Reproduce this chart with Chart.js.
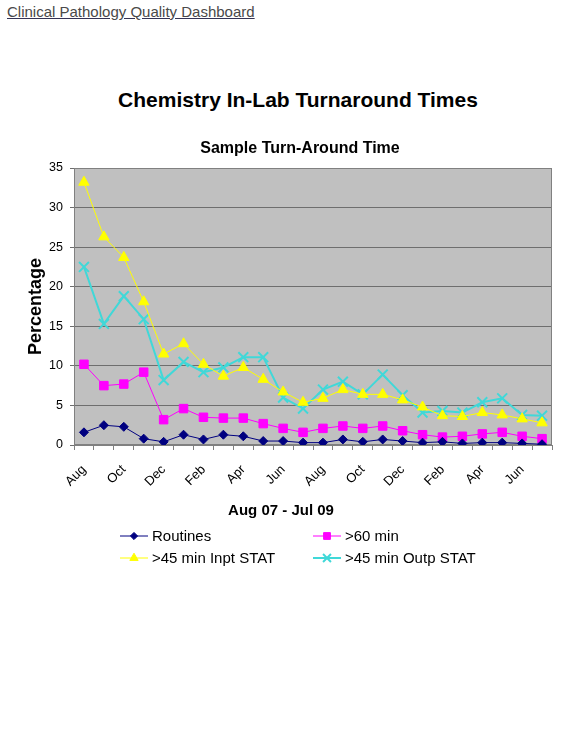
<!DOCTYPE html>
<html>
<head>
<meta charset="utf-8">
<title>Chemistry In-Lab Turnaround Times</title>
<script src="https://cdn.jsdelivr.net/npm/chart.js@4.4.1/dist/chart.umd.min.js"></script>
<style>
  body { margin: 0; background: #fff; font-family: "Liberation Sans", Arial, sans-serif; }
  #head { position: absolute; left: 7px; top: 3px; font-size: 15px; color: #4a4a4a;
          text-decoration: underline; text-decoration-color: #333355; }
  #title { position: absolute; left: 10px; top: 88px; width: 576px; text-align: center;
           font-weight: bold; font-size: 21px; color: #000; }
  #wrap { position: absolute; left: 0; top: 130px; width: 576px; height: 450px; }
</style>
</head>
<body>
<div id="head">Clinical Pathology Quality Dashboard</div>
<div id="title">Chemistry In-Lab Turnaround Times</div>
<div id="wrap"><canvas id="tatChart"></canvas></div>

<script>
// months Aug 07 .. Jul 09
const months = ["Aug", "Sep", "Oct", "Nov", "Dec", "Jan", "Feb", "Mar", "Apr", "May", "Jun", "Jul",
                "Aug", "Sep", "Oct", "Nov", "Dec", "Jan", "Feb", "Mar", "Apr", "May", "Jun", "Jul"];

const routines = [1.6, 2.5, 2.3, 0.8, 0.4, 1.3, 0.7, 1.3, 1.1, 0.5, 0.5, 0.3,
                  0.3, 0.7, 0.4, 0.7, 0.5, 0.3, 0.4, 0.2, 0.3, 0.3, 0.2, 0.1];
const over60 = [10.2, 7.5, 7.7, 9.2, 3.2, 4.6, 3.5, 3.4, 3.4, 2.7, 2.1, 1.6,
                2.1, 2.4, 2.1, 2.4, 1.8, 1.3, 1.0, 1.1, 1.4, 1.6, 1.1, 0.8];
const inptStat = [33.2, 26.3, 23.7, 18.1, 11.5, 12.8, 10.2, 8.7, 9.8, 8.3, 6.7, 5.4,
                  5.9, 7.0, 6.4, 6.4, 5.7, 4.8, 3.7, 3.6, 4.1, 3.8, 3.3, 2.8];
const outpStat = [22.5, 15.3, 18.8, 15.9, 8.2, 10.5, 9.2, 9.8, 11.1, 11.1, 6.0, 4.6,
                  7.0, 8.0, 6.4, 8.9, 6.3, 4.1, 4.3, 4.1, 5.4, 5.9, 3.8, 3.7];

const yTicks = [0, 5, 10, 15, 20, 25, 30, 35];

const chartTitle = "Sample Turn-Around Time";
const xTitle = "Aug 07 - Jul 09";

// plot background + frame, titles and a two-column legend like the Excel one
const excelLook = {
  id: "excelLook",
  beforeDraw(chart) {
    const { ctx, chartArea: a } = chart;
    ctx.save();
    ctx.fillStyle = "#c0c0c0";
    ctx.fillRect(a.left, a.top, a.right - a.left, a.bottom - a.top);
    ctx.restore();
  },
  beforeDatasetsDraw(chart) {
    const { ctx, chartArea: a } = chart;
    ctx.save();
    ctx.strokeStyle = "#808080";
    ctx.lineWidth = 1;
    ctx.strokeRect(a.left + 0.5, a.top + 0.5, a.right - a.left - 1, a.bottom - a.top - 1);
    ctx.restore();
  },
  afterDraw(chart) {
    const { ctx } = chart;
    ctx.save();
    ctx.fillStyle = "#000";
    ctx.textAlign = "center";
    ctx.textBaseline = "middle";
    ctx.font = "bold 16px 'Liberation Sans', Arial, sans-serif";
    ctx.fillText(chartTitle, 300, 19);
    ctx.font = "bold 15px 'Liberation Sans', Arial, sans-serif";
    ctx.fillText(xTitle, 281, 381);

    const colX = [120, 313];
    const rowY = [406, 428];
    ctx.textAlign = "left";
    chart.data.datasets.forEach((ds, i) => {
      const x0 = colX[i % 2], y = rowY[Math.floor(i / 2)];
      ctx.strokeStyle = ds.borderColor;
      ctx.lineWidth = ds.borderWidth;
      ctx.beginPath();
      ctx.moveTo(x0, y);
      ctx.lineTo(x0 + 28, y);
      ctx.stroke();
      ctx.fillStyle = ds.pointBackgroundColor;
      ctx.strokeStyle = ds.pointBorderColor;
      ctx.lineWidth = ds.pointBorderWidth;
      Chart.helpers.drawPoint(ctx, { pointStyle: ds.pointStyle, radius: ds.pointRadius * 0.8, rotation: 0, borderWidth: ds.pointBorderWidth }, x0 + 14, y);
      ctx.fillStyle = "#000";
      ctx.font = "15px 'Liberation Sans', Arial, sans-serif";
      ctx.fillText(ds.label, x0 + 32, y + 1);
    });
    ctx.restore();
  }
};

function series(label, data, color, style, radius, width) {
  return {
    label, data,
    borderColor: color, borderWidth: width,
    pointStyle: style, pointRadius: radius, pointHoverRadius: radius,
    pointBackgroundColor: color, pointBorderColor: color,
    pointBorderWidth: style === "crossRot" ? 2 : 1,
    tension: 0, fill: false
  };
}

document.addEventListener("DOMContentLoaded", () => {
  const ctx = document.getElementById("tatChart");
  new Chart(ctx, {
    type: "line",
    data: {
      labels: months,
      datasets: [
        series("Routines", routines, "#000080", "rectRot", 4.5, 1),
        series(">60 min", over60, "#ff00ff", "rect", 6, 1),
        series(">45 min Inpt STAT", inptStat, "#ffff00", "triangle", 6, 1),
        series(">45 min Outp STAT", outpStat, "#40d8d8", "crossRot", 7, 2)
      ]
    },
    options: {
      responsive: true,
      maintainAspectRatio: false,
      animation: false,
      layout: { padding: { left: 0, right: 24, top: 38, bottom: 58 } },
      plugins: {
        legend: { display: false },
        tooltip: { enabled: false },
        title: { display: false }
      },
      scales: {
        x: {
          offset: true,
          grid: { display: true, drawOnChartArea: false, drawTicks: true, tickLength: 5, color: "#808080", offset: true },
          border: { color: "#808080" },
          ticks: {
            autoSkip: false, minRotation: 45, maxRotation: 45, padding: 12,
            color: "#000", font: { family: "'Liberation Sans', Arial", size: 13 },
            callback: (v, i) => (i % 2 === 0 ? months[i] : "")
          },
          afterFit: s => { s.height = 77; }
        },
        y: {
          min: 0, max: 35,
          afterBuildTicks: s => { s.ticks = yTicks.map(v => ({ value: v })); },
          grid: { color: "#6e6e6e", tickLength: 4 },
          border: { color: "#808080" },
          ticks: { padding: 7, color: "#000", font: { family: "'Liberation Sans', Arial", size: 12.5 } },
          title: {
            display: true, text: "Percentage", color: "#000",
            font: { family: "'Liberation Sans', Arial", size: 18, weight: "bold" },
            padding: { top: 25, bottom: 0 }
          },
          afterFit: s => { s.width = 74; }
        }
      }
    },
    plugins: [excelLook]
  });
});
</script>
</body>
</html>
